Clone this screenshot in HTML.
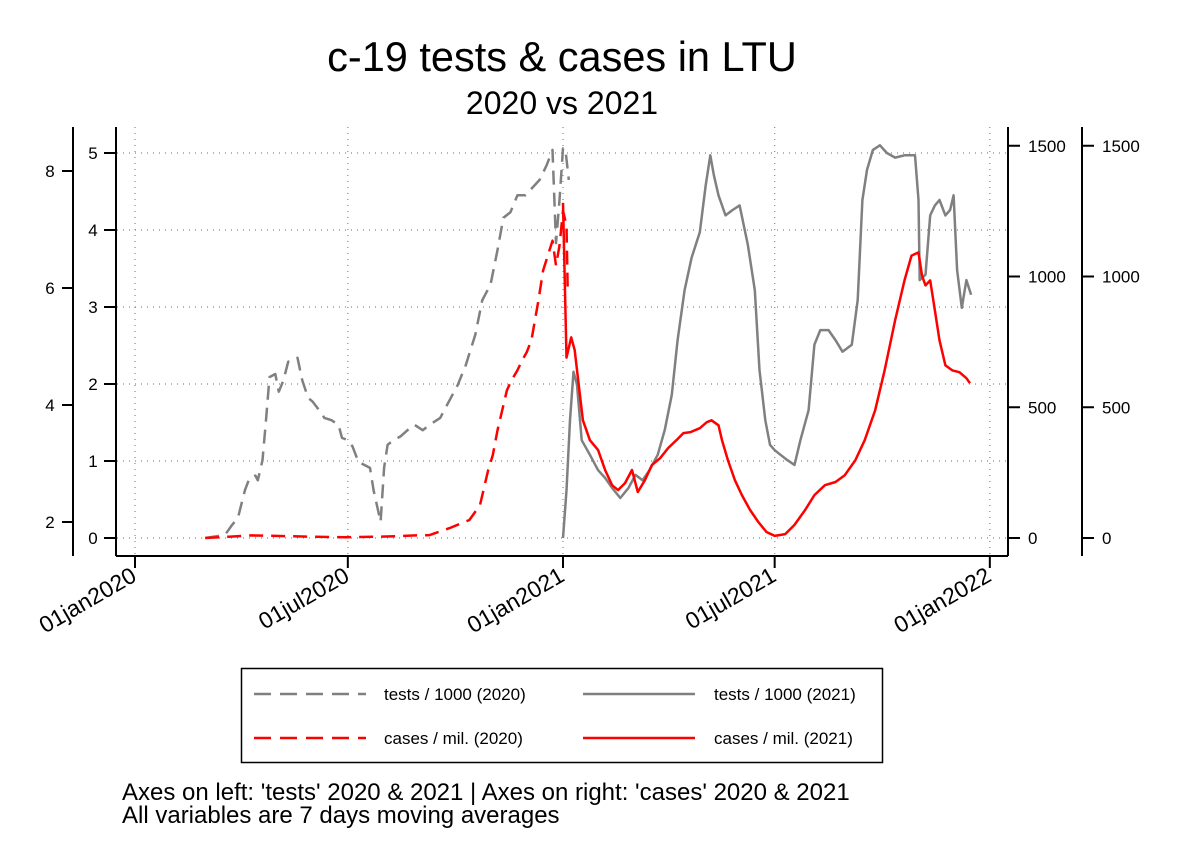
<!DOCTYPE html>
<html><head><meta charset="utf-8">
<style>
body{margin:0;background:#fff;}
svg{display:block;font-family:"Liberation Sans",Arial,sans-serif;}
</style></head>
<body>
<svg id="chart" width="1188" height="864" viewBox="0 0 1188 864">
<rect width="1188" height="864" fill="#fff"/>
<text x="562" y="71" font-size="41.5" text-anchor="middle">c-19 tests &amp; cases in LTU</text>
<text x="562" y="114" font-size="32" text-anchor="middle">2020 vs 2021</text>
<g id="grid"></g>
<g id="axes"></g>
<g id="series"></g>
<g>
<rect x="241.5" y="668.5" width="641" height="94" fill="none" stroke="#000" stroke-width="1.5"/>
<g><line x1="254" y1="694" x2="366" y2="694" stroke="#808080" stroke-width="2.5" stroke-dasharray="17,9"/><text x="384" y="700" font-size="17">tests / 1000 (2020)</text></g>
<g><line x1="583" y1="694" x2="695" y2="694" stroke="#808080" stroke-width="2.5"/><text x="714" y="700" font-size="17">tests / 1000 (2021)</text></g>
<g><line x1="254" y1="738" x2="366" y2="738" stroke="#ff0000" stroke-width="2.5" stroke-dasharray="17,9"/><text x="384" y="744" font-size="17">cases / mil. (2020)</text></g>
<g><line x1="583" y1="738" x2="695" y2="738" stroke="#ff0000" stroke-width="2.5"/><text x="714" y="744" font-size="17">cases / mil. (2021)</text></g>
</g>
<text x="122" y="800" font-size="24">Axes on left: 'tests' 2020 &amp; 2021 | Axes on right: 'cases' 2020 &amp; 2021</text>
<text x="122" y="823" font-size="24">All variables are 7 days moving averages</text>
</svg>
<script>
// days since 01jan2020 and values
const tests2020Days=[60,77,83,88,94,98,103,105,109,112,115,120,123,127,131,136,139,143,148,152,156,162,168,174,177,182,186,191,196,201,204,210,213,216,221,227,233,239,246,252,261,269,276,283,291,297,304,310,315,321,327,334,338,346,352,357,360,363,366,368,371];
const tests2020Vals=[0,0.04,0.17,0.26,0.62,0.78,0.81,0.75,1.01,1.53,2.09,2.13,1.90,2.05,2.29,2.31,2.34,2.05,1.82,1.77,1.69,1.56,1.53,1.47,1.30,1.27,1.19,0.99,0.95,0.91,0.62,0.21,0.91,1.21,1.27,1.32,1.40,1.47,1.40,1.47,1.56,1.79,1.99,2.25,2.64,3.09,3.29,3.74,4.16,4.23,4.45,4.45,4.52,4.65,4.84,5.04,3.83,4.39,5.06,5.06,4.65];
const cases2020Days=[60,80,100,120,150,180,210,230,240,252,269,286,295,302,306,310,315,318,322,327,331,335,339,345,349,353,357,360,363,366,369,370];
const cases2020Vals=[0,5,10,8,5,3,5,8,10,11,38,69,126,260,317,412,508,565,603,641,679,710,756,908,1023,1080,1137,1042,1118,1252,1195,947];
const tests2021Days=[366,369,372,375,378,382,389,396,402,408,415,422,428,434,440,447,453,459,464,470,476,483,488,492,495,499,505,511,517,524,530,534,539,543,547,552,558,564,569,576,581,586,593,599,605,613,618,622,626,631,637,643,650,658,667,670,671,676,680,684,688,693,697,700,703,707,711,715];
const tests2021Vals=[0,0.62,1.53,2.16,1.99,1.27,1.08,0.88,0.78,0.65,0.52,0.65,0.82,0.75,0.88,1.08,1.40,1.86,2.57,3.22,3.64,3.97,4.58,4.97,4.71,4.45,4.19,4.26,4.32,3.81,3.22,2.18,1.53,1.21,1.14,1.08,1.01,0.95,1.27,1.66,2.51,2.70,2.70,2.57,2.42,2.51,3.09,4.39,4.78,5.04,5.10,5.00,4.94,4.97,4.97,4.39,3.35,3.42,4.19,4.32,4.39,4.19,4.26,4.45,3.48,2.99,3.35,3.16];
const cases2021Days=[366,369,373,376,379,383,389,396,402,408,413,419,425,430,436,442,449,456,463,469,475,483,489,493,499,502,507,513,519,526,533,540,547,556,564,573,581,590,599,607,616,624,633,641,650,658,664,670,673,676,680,684,688,693,699,705,711,714];
const cases2021Vals=[1282,690,767,718,603,450,374,336,260,202,183,210,260,176,221,279,305,344,374,401,405,420,443,450,431,374,298,221,164,107,61,23,8,15,50,107,164,202,214,240,298,374,489,641,832,985,1080,1092,1004,966,985,870,756,660,641,634,611,592];
const xTickDays=[0,182,366,547,731];
const xTickLabels=["01jan2020","01jul2020","01jan2021","01jul2021","01jan2022"];
const testTicks=[0,1,2,3,4,5];
const outerTicks=[2,4,6,8];
const caseTicks=[0,500,1000,1500];

const NS="http://www.w3.org/2000/svg";
const X0=135, PXD=1.1694;
const xs=d=>X0+d*PXD;
const yT=v=>538-v*77;
const yO=v=>639-v*58.5;
const yC=v=>538-v*0.2615;
function mk(tag,attrs,parent){const e=document.createElementNS(NS,tag);for(const k in attrs)e.setAttribute(k,attrs[k]);parent.appendChild(e);return e;}
const grid=document.getElementById('grid'),axes=document.getElementById('axes'),series=document.getElementById('series');

testTicks.forEach(v=>{
  const g=mk('line',{x1:117,x2:1008,y1:yT(v),y2:yT(v),stroke:'#888','stroke-width':1.2,'stroke-dasharray':'1,5'},grid);
  
  
});
xTickDays.forEach(d=>{
  const g=mk('line',{x1:xs(d),x2:xs(d),y1:127,y2:556,stroke:'#888','stroke-width':1.2,'stroke-dasharray':'1,5'},grid);
  
  
});
[[73,127,73,556],[116,127,116,556],[1008,127,1008,556],[1082,127,1082,556],[116,556,1008,556]].forEach(a=>{
  const l=mk('line',{x1:a[0],y1:a[1],x2:a[2],y2:a[3],stroke:'#000','stroke-width':2},axes);
  
  
});
testTicks.forEach(v=>{
  mk('line',{x1:104,x2:116,y1:yT(v),y2:yT(v),stroke:'#000','stroke-width':2},axes);
  const t=mk('text',{x:93,y:yT(v)+6,'font-size':17,'text-anchor':'middle'},axes);t.textContent=v;
  
  
});
outerTicks.forEach(v=>{
  mk('line',{x1:62,x2:73,y1:yO(v),y2:yO(v),stroke:'#000','stroke-width':2},axes);
  const t=mk('text',{x:50,y:yO(v)+6,'font-size':17,'text-anchor':'middle'},axes);t.textContent=v;
  
  
});
caseTicks.forEach(v=>{
  [1008,1082].forEach(ax=>{
    mk('line',{x1:ax,x2:ax+12,y1:yC(v),y2:yC(v),stroke:'#000','stroke-width':2},axes);
    const t=mk('text',{x:ax+20,y:yC(v)+6,'font-size':17},axes);t.textContent=v;
    
    
  });
});
xTickDays.forEach((d,i)=>{
  const x=xs(d);
  mk('line',{x1:x,x2:x,y1:556,y2:568,stroke:'#000','stroke-width':2},axes);
  const t=mk('text',{x:x+3,y:580,'font-size':23,'text-anchor':'end',transform:`rotate(-30 ${x+3} 580)`},axes);
  t.textContent=xTickLabels[i];
  
  
});
function path(days,vals,yf,color,dash,name){
  const d=days.map((dd,i)=>(i?'L':'M')+xs(dd).toFixed(1)+','+yf(vals[i]).toFixed(1)).join('');
  const p=mk('path',{d:d,fill:'none',stroke:color,'stroke-width':2.5,'stroke-linejoin':'round'},series);
  if(dash)p.setAttribute('stroke-dasharray','14,8');
  
  
}
path(tests2020Days,tests2020Vals,yT,'#808080',true,'tests-2020-line');
path(cases2020Days,cases2020Vals,yC,'#ff0000',true,'cases-2020-line');
path(tests2021Days,tests2021Vals,yT,'#808080',false,'tests-2021-line');
path(cases2021Days,cases2021Vals,yC,'#ff0000',false,'cases-2021-line');
</script>
</body></html>
